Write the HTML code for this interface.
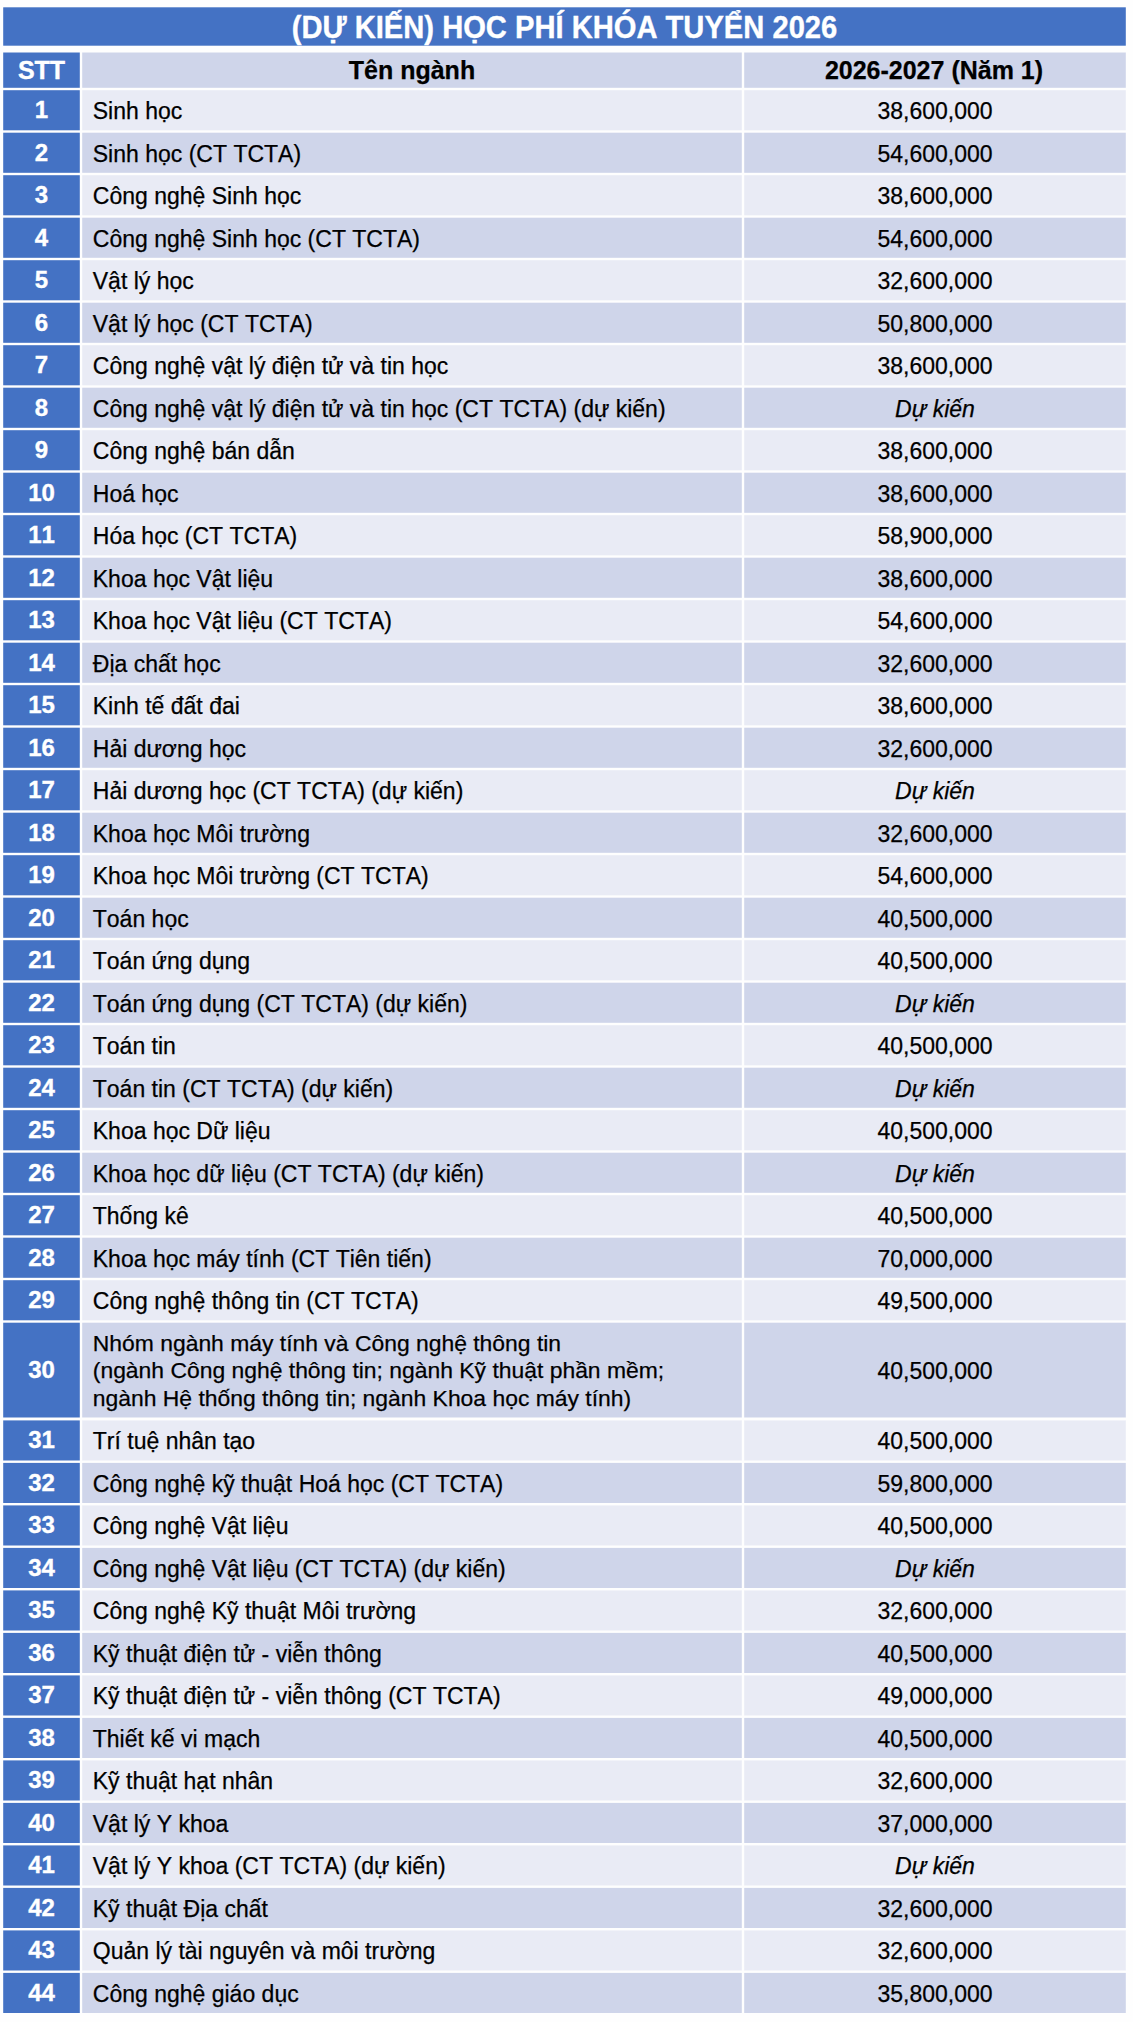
<!DOCTYPE html>
<html lang="vi">
<head>
<meta charset="utf-8">
<title>(Dự kiến) Học phí khóa tuyển 2026</title>
<style>
html,body{margin:0;padding:0;background:#fefefe;}
body{width:1133px;height:2022px;position:relative;overflow:hidden;font-family:"Liberation Sans",Arial,sans-serif;color:#000;font-kerning:none;}
svg.bg{position:absolute;left:0;top:0;width:1133px;height:2022px;display:block;}
.c{position:absolute;display:flex;align-items:center;box-sizing:border-box;white-space:nowrap;}
.s{left:3.2px;width:76.6px;color:#fff;font-weight:bold;font-size:24px;justify-content:center;}
.n{left:82.2px;width:659.6px;font-size:23px;padding-left:10.6px;}
.p{left:744.2px;width:381.6px;font-size:23px;justify-content:center;}
.n,.p{-webkit-text-stroke:0.25px #000;}
.s,.t{-webkit-text-stroke:0.35px #fff;}
.p.h{padding-right:2px;}
.h{font-weight:bold;font-size:25px;justify-content:center;padding-left:0;}
.t{left:3.2px;width:1122.6px;top:7.3px;height:38.4px;color:#fff;font-weight:bold;font-size:29.15px;justify-content:center;}
.c span{position:relative;top:1.3px;}
.s span{top:-0.2px;}
.t span{top:1.6px;display:inline-block;transform:scaleY(1.055);transform-origin:50% 78.8%;}
.h span{top:0.3px;}
i{font-style:italic;}
.m{line-height:27.8px;font-size:22.9px;}
</style>
</head>
<body>
<svg class="bg" width="1133" height="2022" viewBox="0 0 1133 2022">
<rect x="3.2" y="7.3" width="1122.6" height="38.4" fill="#4472c4"/>
<rect x="3.2" y="52.5" width="76.6" height="35.3" fill="#4472c4"/>
<rect x="82.2" y="52.5" width="659.6" height="35.3" fill="#cfd5ea"/>
<rect x="744.2" y="52.5" width="381.6" height="35.3" fill="#cfd5ea"/>
<rect x="3.2" y="90.2" width="76.6" height="40.1" fill="#4472c4"/>
<rect x="82.2" y="90.2" width="659.6" height="40.1" fill="#e9ebf5"/>
<rect x="744.2" y="90.2" width="381.6" height="40.1" fill="#e9ebf5"/>
<rect x="3.2" y="132.7" width="76.6" height="40.1" fill="#4472c4"/>
<rect x="82.2" y="132.7" width="659.6" height="40.1" fill="#cfd5ea"/>
<rect x="744.2" y="132.7" width="381.6" height="40.1" fill="#cfd5ea"/>
<rect x="3.2" y="175.2" width="76.6" height="40.1" fill="#4472c4"/>
<rect x="82.2" y="175.2" width="659.6" height="40.1" fill="#e9ebf5"/>
<rect x="744.2" y="175.2" width="381.6" height="40.1" fill="#e9ebf5"/>
<rect x="3.2" y="217.7" width="76.6" height="40.1" fill="#4472c4"/>
<rect x="82.2" y="217.7" width="659.6" height="40.1" fill="#cfd5ea"/>
<rect x="744.2" y="217.7" width="381.6" height="40.1" fill="#cfd5ea"/>
<rect x="3.2" y="260.2" width="76.6" height="40.1" fill="#4472c4"/>
<rect x="82.2" y="260.2" width="659.6" height="40.1" fill="#e9ebf5"/>
<rect x="744.2" y="260.2" width="381.6" height="40.1" fill="#e9ebf5"/>
<rect x="3.2" y="302.7" width="76.6" height="40.1" fill="#4472c4"/>
<rect x="82.2" y="302.7" width="659.6" height="40.1" fill="#cfd5ea"/>
<rect x="744.2" y="302.7" width="381.6" height="40.1" fill="#cfd5ea"/>
<rect x="3.2" y="345.2" width="76.6" height="40.1" fill="#4472c4"/>
<rect x="82.2" y="345.2" width="659.6" height="40.1" fill="#e9ebf5"/>
<rect x="744.2" y="345.2" width="381.6" height="40.1" fill="#e9ebf5"/>
<rect x="3.2" y="387.7" width="76.6" height="40.1" fill="#4472c4"/>
<rect x="82.2" y="387.7" width="659.6" height="40.1" fill="#cfd5ea"/>
<rect x="744.2" y="387.7" width="381.6" height="40.1" fill="#cfd5ea"/>
<rect x="3.2" y="430.2" width="76.6" height="40.1" fill="#4472c4"/>
<rect x="82.2" y="430.2" width="659.6" height="40.1" fill="#e9ebf5"/>
<rect x="744.2" y="430.2" width="381.6" height="40.1" fill="#e9ebf5"/>
<rect x="3.2" y="472.7" width="76.6" height="40.1" fill="#4472c4"/>
<rect x="82.2" y="472.7" width="659.6" height="40.1" fill="#cfd5ea"/>
<rect x="744.2" y="472.7" width="381.6" height="40.1" fill="#cfd5ea"/>
<rect x="3.2" y="515.2" width="76.6" height="40.1" fill="#4472c4"/>
<rect x="82.2" y="515.2" width="659.6" height="40.1" fill="#e9ebf5"/>
<rect x="744.2" y="515.2" width="381.6" height="40.1" fill="#e9ebf5"/>
<rect x="3.2" y="557.7" width="76.6" height="40.1" fill="#4472c4"/>
<rect x="82.2" y="557.7" width="659.6" height="40.1" fill="#cfd5ea"/>
<rect x="744.2" y="557.7" width="381.6" height="40.1" fill="#cfd5ea"/>
<rect x="3.2" y="600.2" width="76.6" height="40.1" fill="#4472c4"/>
<rect x="82.2" y="600.2" width="659.6" height="40.1" fill="#e9ebf5"/>
<rect x="744.2" y="600.2" width="381.6" height="40.1" fill="#e9ebf5"/>
<rect x="3.2" y="642.7" width="76.6" height="40.1" fill="#4472c4"/>
<rect x="82.2" y="642.7" width="659.6" height="40.1" fill="#cfd5ea"/>
<rect x="744.2" y="642.7" width="381.6" height="40.1" fill="#cfd5ea"/>
<rect x="3.2" y="685.2" width="76.6" height="40.1" fill="#4472c4"/>
<rect x="82.2" y="685.2" width="659.6" height="40.1" fill="#e9ebf5"/>
<rect x="744.2" y="685.2" width="381.6" height="40.1" fill="#e9ebf5"/>
<rect x="3.2" y="727.7" width="76.6" height="40.1" fill="#4472c4"/>
<rect x="82.2" y="727.7" width="659.6" height="40.1" fill="#cfd5ea"/>
<rect x="744.2" y="727.7" width="381.6" height="40.1" fill="#cfd5ea"/>
<rect x="3.2" y="770.2" width="76.6" height="40.1" fill="#4472c4"/>
<rect x="82.2" y="770.2" width="659.6" height="40.1" fill="#e9ebf5"/>
<rect x="744.2" y="770.2" width="381.6" height="40.1" fill="#e9ebf5"/>
<rect x="3.2" y="812.7" width="76.6" height="40.1" fill="#4472c4"/>
<rect x="82.2" y="812.7" width="659.6" height="40.1" fill="#cfd5ea"/>
<rect x="744.2" y="812.7" width="381.6" height="40.1" fill="#cfd5ea"/>
<rect x="3.2" y="855.2" width="76.6" height="40.1" fill="#4472c4"/>
<rect x="82.2" y="855.2" width="659.6" height="40.1" fill="#e9ebf5"/>
<rect x="744.2" y="855.2" width="381.6" height="40.1" fill="#e9ebf5"/>
<rect x="3.2" y="897.7" width="76.6" height="40.1" fill="#4472c4"/>
<rect x="82.2" y="897.7" width="659.6" height="40.1" fill="#cfd5ea"/>
<rect x="744.2" y="897.7" width="381.6" height="40.1" fill="#cfd5ea"/>
<rect x="3.2" y="940.2" width="76.6" height="40.1" fill="#4472c4"/>
<rect x="82.2" y="940.2" width="659.6" height="40.1" fill="#e9ebf5"/>
<rect x="744.2" y="940.2" width="381.6" height="40.1" fill="#e9ebf5"/>
<rect x="3.2" y="982.7" width="76.6" height="40.1" fill="#4472c4"/>
<rect x="82.2" y="982.7" width="659.6" height="40.1" fill="#cfd5ea"/>
<rect x="744.2" y="982.7" width="381.6" height="40.1" fill="#cfd5ea"/>
<rect x="3.2" y="1025.2" width="76.6" height="40.1" fill="#4472c4"/>
<rect x="82.2" y="1025.2" width="659.6" height="40.1" fill="#e9ebf5"/>
<rect x="744.2" y="1025.2" width="381.6" height="40.1" fill="#e9ebf5"/>
<rect x="3.2" y="1067.7" width="76.6" height="40.1" fill="#4472c4"/>
<rect x="82.2" y="1067.7" width="659.6" height="40.1" fill="#cfd5ea"/>
<rect x="744.2" y="1067.7" width="381.6" height="40.1" fill="#cfd5ea"/>
<rect x="3.2" y="1110.2" width="76.6" height="40.1" fill="#4472c4"/>
<rect x="82.2" y="1110.2" width="659.6" height="40.1" fill="#e9ebf5"/>
<rect x="744.2" y="1110.2" width="381.6" height="40.1" fill="#e9ebf5"/>
<rect x="3.2" y="1152.7" width="76.6" height="40.1" fill="#4472c4"/>
<rect x="82.2" y="1152.7" width="659.6" height="40.1" fill="#cfd5ea"/>
<rect x="744.2" y="1152.7" width="381.6" height="40.1" fill="#cfd5ea"/>
<rect x="3.2" y="1195.2" width="76.6" height="40.1" fill="#4472c4"/>
<rect x="82.2" y="1195.2" width="659.6" height="40.1" fill="#e9ebf5"/>
<rect x="744.2" y="1195.2" width="381.6" height="40.1" fill="#e9ebf5"/>
<rect x="3.2" y="1237.7" width="76.6" height="40.1" fill="#4472c4"/>
<rect x="82.2" y="1237.7" width="659.6" height="40.1" fill="#cfd5ea"/>
<rect x="744.2" y="1237.7" width="381.6" height="40.1" fill="#cfd5ea"/>
<rect x="3.2" y="1280.2" width="76.6" height="40.1" fill="#4472c4"/>
<rect x="82.2" y="1280.2" width="659.6" height="40.1" fill="#e9ebf5"/>
<rect x="744.2" y="1280.2" width="381.6" height="40.1" fill="#e9ebf5"/>
<rect x="3.2" y="1322.7" width="76.6" height="94.8" fill="#4472c4"/>
<rect x="82.2" y="1322.7" width="659.6" height="94.8" fill="#cfd5ea"/>
<rect x="744.2" y="1322.7" width="381.6" height="94.8" fill="#cfd5ea"/>
<rect x="3.2" y="1420.4" width="76.6" height="40.1" fill="#4472c4"/>
<rect x="82.2" y="1420.4" width="659.6" height="40.1" fill="#e9ebf5"/>
<rect x="744.2" y="1420.4" width="381.6" height="40.1" fill="#e9ebf5"/>
<rect x="3.2" y="1462.9" width="76.6" height="40.1" fill="#4472c4"/>
<rect x="82.2" y="1462.9" width="659.6" height="40.1" fill="#cfd5ea"/>
<rect x="744.2" y="1462.9" width="381.6" height="40.1" fill="#cfd5ea"/>
<rect x="3.2" y="1505.4" width="76.6" height="40.1" fill="#4472c4"/>
<rect x="82.2" y="1505.4" width="659.6" height="40.1" fill="#e9ebf5"/>
<rect x="744.2" y="1505.4" width="381.6" height="40.1" fill="#e9ebf5"/>
<rect x="3.2" y="1547.9" width="76.6" height="40.1" fill="#4472c4"/>
<rect x="82.2" y="1547.9" width="659.6" height="40.1" fill="#cfd5ea"/>
<rect x="744.2" y="1547.9" width="381.6" height="40.1" fill="#cfd5ea"/>
<rect x="3.2" y="1590.4" width="76.6" height="40.1" fill="#4472c4"/>
<rect x="82.2" y="1590.4" width="659.6" height="40.1" fill="#e9ebf5"/>
<rect x="744.2" y="1590.4" width="381.6" height="40.1" fill="#e9ebf5"/>
<rect x="3.2" y="1632.9" width="76.6" height="40.1" fill="#4472c4"/>
<rect x="82.2" y="1632.9" width="659.6" height="40.1" fill="#cfd5ea"/>
<rect x="744.2" y="1632.9" width="381.6" height="40.1" fill="#cfd5ea"/>
<rect x="3.2" y="1675.4" width="76.6" height="40.1" fill="#4472c4"/>
<rect x="82.2" y="1675.4" width="659.6" height="40.1" fill="#e9ebf5"/>
<rect x="744.2" y="1675.4" width="381.6" height="40.1" fill="#e9ebf5"/>
<rect x="3.2" y="1717.9" width="76.6" height="40.1" fill="#4472c4"/>
<rect x="82.2" y="1717.9" width="659.6" height="40.1" fill="#cfd5ea"/>
<rect x="744.2" y="1717.9" width="381.6" height="40.1" fill="#cfd5ea"/>
<rect x="3.2" y="1760.4" width="76.6" height="40.1" fill="#4472c4"/>
<rect x="82.2" y="1760.4" width="659.6" height="40.1" fill="#e9ebf5"/>
<rect x="744.2" y="1760.4" width="381.6" height="40.1" fill="#e9ebf5"/>
<rect x="3.2" y="1802.9" width="76.6" height="40.1" fill="#4472c4"/>
<rect x="82.2" y="1802.9" width="659.6" height="40.1" fill="#cfd5ea"/>
<rect x="744.2" y="1802.9" width="381.6" height="40.1" fill="#cfd5ea"/>
<rect x="3.2" y="1845.4" width="76.6" height="40.1" fill="#4472c4"/>
<rect x="82.2" y="1845.4" width="659.6" height="40.1" fill="#e9ebf5"/>
<rect x="744.2" y="1845.4" width="381.6" height="40.1" fill="#e9ebf5"/>
<rect x="3.2" y="1887.9" width="76.6" height="40.1" fill="#4472c4"/>
<rect x="82.2" y="1887.9" width="659.6" height="40.1" fill="#cfd5ea"/>
<rect x="744.2" y="1887.9" width="381.6" height="40.1" fill="#cfd5ea"/>
<rect x="3.2" y="1930.4" width="76.6" height="40.1" fill="#4472c4"/>
<rect x="82.2" y="1930.4" width="659.6" height="40.1" fill="#e9ebf5"/>
<rect x="744.2" y="1930.4" width="381.6" height="40.1" fill="#e9ebf5"/>
<rect x="3.2" y="1972.9" width="76.6" height="40.1" fill="#4472c4"/>
<rect x="82.2" y="1972.9" width="659.6" height="40.1" fill="#cfd5ea"/>
<rect x="744.2" y="1972.9" width="381.6" height="40.1" fill="#cfd5ea"/>
</svg>
<div class="c t"><span>(DỰ KIẾN) HỌC PHÍ KHÓA TUYỂN 2026</span></div>
<div class="c s h" style="top:52.5px;height:35.3px"><span>STT</span></div><div class="c n h" style="top:52.5px;height:35.3px"><span>Tên ngành</span></div><div class="c p h" style="top:52.5px;height:35.3px"><span>2026-2027 (Năm 1)</span></div>
<div class="c s" style="top:90.2px;height:40.1px"><span>1</span></div><div class="c n" style="top:90.2px;height:40.1px"><span>Sinh học</span></div><div class="c p" style="top:90.2px;height:40.1px"><span>38,600,000</span></div>
<div class="c s" style="top:132.7px;height:40.1px"><span>2</span></div><div class="c n" style="top:132.7px;height:40.1px"><span>Sinh học (CT TCTA)</span></div><div class="c p" style="top:132.7px;height:40.1px"><span>54,600,000</span></div>
<div class="c s" style="top:175.2px;height:40.1px"><span>3</span></div><div class="c n" style="top:175.2px;height:40.1px"><span>Công nghệ Sinh học</span></div><div class="c p" style="top:175.2px;height:40.1px"><span>38,600,000</span></div>
<div class="c s" style="top:217.7px;height:40.1px"><span>4</span></div><div class="c n" style="top:217.7px;height:40.1px"><span>Công nghệ Sinh học (CT TCTA)</span></div><div class="c p" style="top:217.7px;height:40.1px"><span>54,600,000</span></div>
<div class="c s" style="top:260.2px;height:40.1px"><span>5</span></div><div class="c n" style="top:260.2px;height:40.1px"><span>Vật lý học</span></div><div class="c p" style="top:260.2px;height:40.1px"><span>32,600,000</span></div>
<div class="c s" style="top:302.7px;height:40.1px"><span>6</span></div><div class="c n" style="top:302.7px;height:40.1px"><span>Vật lý học (CT TCTA)</span></div><div class="c p" style="top:302.7px;height:40.1px"><span>50,800,000</span></div>
<div class="c s" style="top:345.2px;height:40.1px"><span>7</span></div><div class="c n" style="top:345.2px;height:40.1px"><span>Công nghệ vật lý điện tử và tin học</span></div><div class="c p" style="top:345.2px;height:40.1px"><span>38,600,000</span></div>
<div class="c s" style="top:387.7px;height:40.1px"><span>8</span></div><div class="c n" style="top:387.7px;height:40.1px"><span>Công nghệ vật lý điện tử và tin học (CT TCTA) (dự kiến)</span></div><div class="c p" style="top:387.7px;height:40.1px"><span><i>Dự kiến</i></span></div>
<div class="c s" style="top:430.2px;height:40.1px"><span>9</span></div><div class="c n" style="top:430.2px;height:40.1px"><span>Công nghệ bán dẫn</span></div><div class="c p" style="top:430.2px;height:40.1px"><span>38,600,000</span></div>
<div class="c s" style="top:472.7px;height:40.1px"><span>10</span></div><div class="c n" style="top:472.7px;height:40.1px"><span>Hoá học</span></div><div class="c p" style="top:472.7px;height:40.1px"><span>38,600,000</span></div>
<div class="c s" style="top:515.2px;height:40.1px"><span>11</span></div><div class="c n" style="top:515.2px;height:40.1px"><span>Hóa học (CT TCTA)</span></div><div class="c p" style="top:515.2px;height:40.1px"><span>58,900,000</span></div>
<div class="c s" style="top:557.7px;height:40.1px"><span>12</span></div><div class="c n" style="top:557.7px;height:40.1px"><span>Khoa học Vật liệu</span></div><div class="c p" style="top:557.7px;height:40.1px"><span>38,600,000</span></div>
<div class="c s" style="top:600.2px;height:40.1px"><span>13</span></div><div class="c n" style="top:600.2px;height:40.1px"><span>Khoa học Vật liệu (CT TCTA)</span></div><div class="c p" style="top:600.2px;height:40.1px"><span>54,600,000</span></div>
<div class="c s" style="top:642.7px;height:40.1px"><span>14</span></div><div class="c n" style="top:642.7px;height:40.1px"><span>Địa chất học</span></div><div class="c p" style="top:642.7px;height:40.1px"><span>32,600,000</span></div>
<div class="c s" style="top:685.2px;height:40.1px"><span>15</span></div><div class="c n" style="top:685.2px;height:40.1px"><span>Kinh tế đất đai</span></div><div class="c p" style="top:685.2px;height:40.1px"><span>38,600,000</span></div>
<div class="c s" style="top:727.7px;height:40.1px"><span>16</span></div><div class="c n" style="top:727.7px;height:40.1px"><span>Hải dương học</span></div><div class="c p" style="top:727.7px;height:40.1px"><span>32,600,000</span></div>
<div class="c s" style="top:770.2px;height:40.1px"><span>17</span></div><div class="c n" style="top:770.2px;height:40.1px"><span>Hải dương học (CT TCTA) (dự kiến)</span></div><div class="c p" style="top:770.2px;height:40.1px"><span><i>Dự kiến</i></span></div>
<div class="c s" style="top:812.7px;height:40.1px"><span>18</span></div><div class="c n" style="top:812.7px;height:40.1px"><span>Khoa học Môi trường</span></div><div class="c p" style="top:812.7px;height:40.1px"><span>32,600,000</span></div>
<div class="c s" style="top:855.2px;height:40.1px"><span>19</span></div><div class="c n" style="top:855.2px;height:40.1px"><span>Khoa học Môi trường (CT TCTA)</span></div><div class="c p" style="top:855.2px;height:40.1px"><span>54,600,000</span></div>
<div class="c s" style="top:897.7px;height:40.1px"><span>20</span></div><div class="c n" style="top:897.7px;height:40.1px"><span>Toán học</span></div><div class="c p" style="top:897.7px;height:40.1px"><span>40,500,000</span></div>
<div class="c s" style="top:940.2px;height:40.1px"><span>21</span></div><div class="c n" style="top:940.2px;height:40.1px"><span>Toán ứng dụng</span></div><div class="c p" style="top:940.2px;height:40.1px"><span>40,500,000</span></div>
<div class="c s" style="top:982.7px;height:40.1px"><span>22</span></div><div class="c n" style="top:982.7px;height:40.1px"><span>Toán ứng dụng (CT TCTA) (dự kiến)</span></div><div class="c p" style="top:982.7px;height:40.1px"><span><i>Dự kiến</i></span></div>
<div class="c s" style="top:1025.2px;height:40.1px"><span>23</span></div><div class="c n" style="top:1025.2px;height:40.1px"><span>Toán tin</span></div><div class="c p" style="top:1025.2px;height:40.1px"><span>40,500,000</span></div>
<div class="c s" style="top:1067.7px;height:40.1px"><span>24</span></div><div class="c n" style="top:1067.7px;height:40.1px"><span>Toán tin (CT TCTA) (dự kiến)</span></div><div class="c p" style="top:1067.7px;height:40.1px"><span><i>Dự kiến</i></span></div>
<div class="c s" style="top:1110.2px;height:40.1px"><span>25</span></div><div class="c n" style="top:1110.2px;height:40.1px"><span>Khoa học Dữ liệu</span></div><div class="c p" style="top:1110.2px;height:40.1px"><span>40,500,000</span></div>
<div class="c s" style="top:1152.7px;height:40.1px"><span>26</span></div><div class="c n" style="top:1152.7px;height:40.1px"><span>Khoa học dữ liệu (CT TCTA) (dự kiến)</span></div><div class="c p" style="top:1152.7px;height:40.1px"><span><i>Dự kiến</i></span></div>
<div class="c s" style="top:1195.2px;height:40.1px"><span>27</span></div><div class="c n" style="top:1195.2px;height:40.1px"><span>Thống kê</span></div><div class="c p" style="top:1195.2px;height:40.1px"><span>40,500,000</span></div>
<div class="c s" style="top:1237.7px;height:40.1px"><span>28</span></div><div class="c n" style="top:1237.7px;height:40.1px"><span>Khoa học máy tính (CT Tiên tiến)</span></div><div class="c p" style="top:1237.7px;height:40.1px"><span>70,000,000</span></div>
<div class="c s" style="top:1280.2px;height:40.1px"><span>29</span></div><div class="c n" style="top:1280.2px;height:40.1px"><span>Công nghệ thông tin (CT TCTA)</span></div><div class="c p" style="top:1280.2px;height:40.1px"><span>49,500,000</span></div>
<div class="c s" style="top:1322.7px;height:94.8px"><span>30</span></div><div class="c n m" style="top:1322.7px;height:94.8px"><span>Nhóm ngành máy tính và Công nghệ thông tin<br>(ngành Công nghệ thông tin; ngành Kỹ thuật phần mềm;<br>ngành Hệ thống thông tin; ngành Khoa học máy tính)</span></div><div class="c p" style="top:1322.7px;height:94.8px"><span>40,500,000</span></div>
<div class="c s" style="top:1420.4px;height:40.1px"><span>31</span></div><div class="c n" style="top:1420.4px;height:40.1px"><span>Trí tuệ nhân tạo</span></div><div class="c p" style="top:1420.4px;height:40.1px"><span>40,500,000</span></div>
<div class="c s" style="top:1462.9px;height:40.1px"><span>32</span></div><div class="c n" style="top:1462.9px;height:40.1px"><span>Công nghệ kỹ thuật Hoá học (CT TCTA)</span></div><div class="c p" style="top:1462.9px;height:40.1px"><span>59,800,000</span></div>
<div class="c s" style="top:1505.4px;height:40.1px"><span>33</span></div><div class="c n" style="top:1505.4px;height:40.1px"><span>Công nghệ Vật liệu</span></div><div class="c p" style="top:1505.4px;height:40.1px"><span>40,500,000</span></div>
<div class="c s" style="top:1547.9px;height:40.1px"><span>34</span></div><div class="c n" style="top:1547.9px;height:40.1px"><span>Công nghệ Vật liệu (CT TCTA) (dự kiến)</span></div><div class="c p" style="top:1547.9px;height:40.1px"><span><i>Dự kiến</i></span></div>
<div class="c s" style="top:1590.4px;height:40.1px"><span>35</span></div><div class="c n" style="top:1590.4px;height:40.1px"><span>Công nghệ Kỹ thuật Môi trường</span></div><div class="c p" style="top:1590.4px;height:40.1px"><span>32,600,000</span></div>
<div class="c s" style="top:1632.9px;height:40.1px"><span>36</span></div><div class="c n" style="top:1632.9px;height:40.1px"><span>Kỹ thuật điện tử - viễn thông</span></div><div class="c p" style="top:1632.9px;height:40.1px"><span>40,500,000</span></div>
<div class="c s" style="top:1675.4px;height:40.1px"><span>37</span></div><div class="c n" style="top:1675.4px;height:40.1px"><span>Kỹ thuật điện tử - viễn thông (CT TCTA)</span></div><div class="c p" style="top:1675.4px;height:40.1px"><span>49,000,000</span></div>
<div class="c s" style="top:1717.9px;height:40.1px"><span>38</span></div><div class="c n" style="top:1717.9px;height:40.1px"><span>Thiết kế vi mạch</span></div><div class="c p" style="top:1717.9px;height:40.1px"><span>40,500,000</span></div>
<div class="c s" style="top:1760.4px;height:40.1px"><span>39</span></div><div class="c n" style="top:1760.4px;height:40.1px"><span>Kỹ thuật hạt nhân</span></div><div class="c p" style="top:1760.4px;height:40.1px"><span>32,600,000</span></div>
<div class="c s" style="top:1802.9px;height:40.1px"><span>40</span></div><div class="c n" style="top:1802.9px;height:40.1px"><span>Vật lý Y khoa</span></div><div class="c p" style="top:1802.9px;height:40.1px"><span>37,000,000</span></div>
<div class="c s" style="top:1845.4px;height:40.1px"><span>41</span></div><div class="c n" style="top:1845.4px;height:40.1px"><span>Vật lý Y khoa (CT TCTA) (dự kiến)</span></div><div class="c p" style="top:1845.4px;height:40.1px"><span><i>Dự kiến</i></span></div>
<div class="c s" style="top:1887.9px;height:40.1px"><span>42</span></div><div class="c n" style="top:1887.9px;height:40.1px"><span>Kỹ thuật Địa chất</span></div><div class="c p" style="top:1887.9px;height:40.1px"><span>32,600,000</span></div>
<div class="c s" style="top:1930.4px;height:40.1px"><span>43</span></div><div class="c n" style="top:1930.4px;height:40.1px"><span>Quản lý tài nguyên và môi trường</span></div><div class="c p" style="top:1930.4px;height:40.1px"><span>32,600,000</span></div>
<div class="c s" style="top:1972.9px;height:40.1px"><span>44</span></div><div class="c n" style="top:1972.9px;height:40.1px"><span>Công nghệ giáo dục</span></div><div class="c p" style="top:1972.9px;height:40.1px"><span>35,800,000</span></div>
</body>
</html>
